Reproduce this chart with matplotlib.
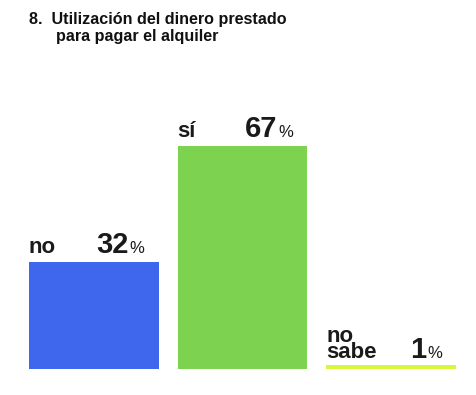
import matplotlib.pyplot as plt

categories = ['no', 'sí', 'no\nsabe']
values = [32, 67, 1]
colors = ['#3F67EE', '#7DD24F', '#DAF53C']
title = '8.  Utilización del dinero prestado\n      para pagar el alquiler'

W, H = 477, 395
fig = plt.figure(figsize=(W / 100, H / 100), dpi=100)
plt.rcParams['font.family'] = ['Liberation Sans', 'DejaVu Sans']

# axes placed in pixel coordinates
left, right, bottom = 29, 456, 395 - 368.7
ax = fig.add_axes([left / W, bottom / H, (right - left) / W, 333 / H])
width = 129 / 148
ax.bar(range(len(values)), values, width=width, color=colors)
ax.set_xlim(-width / 2, len(values) - 1 + width / 2)
ax.set_ylim(0, 100)
ax.axis('off')

for i, (cat, v) in enumerate(zip(categories, values)):
    gap = 7 if '\n' in cat else 9
    ax.annotate(cat, (i - width / 2, v), xytext=(0, gap), textcoords='offset pixels',
                ha='left', va='baseline', fontsize=16, fontweight='bold',
                color='#1a1a1a', linespacing=0.68)
    ax.annotate(str(v), (i + width / 2, v), xytext=(-30, gap), textcoords='offset pixels',
                ha='right', va='baseline', fontsize=21, fontweight='bold', color='#1a1a1a')
    ax.annotate('%', (i + width / 2, v), xytext=(-29, gap), textcoords='offset pixels',
                ha='left', va='baseline', fontsize=12, color='#1a1a1a')

fig.text(29 / W, 1 - 12 / H, title, ha='left', va='top', fontsize=11.6,
         fontweight='bold', color='#111111', linespacing=1.15)

fig.savefig('out.png', dpi=100)
